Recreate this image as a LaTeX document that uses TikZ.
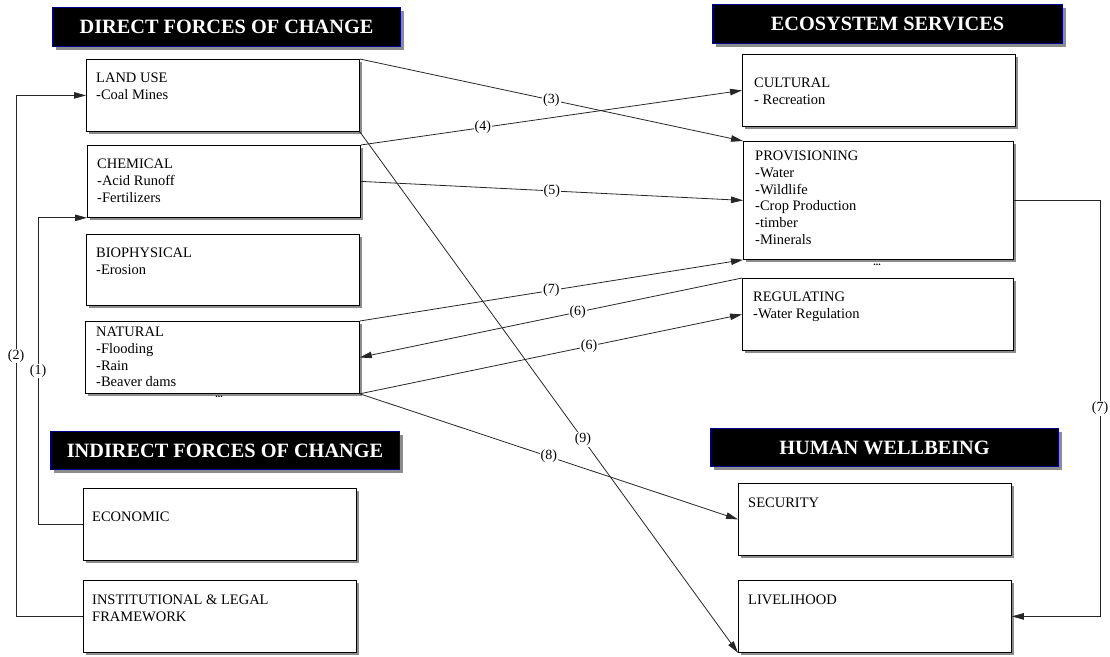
\documentclass[tikz,border=0pt]{standalone}
\usepackage{fontspec}
\setmainfont{Liberation Serif}
\usetikzlibrary{shadows,arrows.meta}
\begin{document}
\begin{tikzpicture}[x=1pt,y=-1pt,
  box/.style={draw=black, line width=0.8pt, fill=white, anchor=north west, inner sep=0pt,
    drop shadow={shadow xshift=3pt, shadow yshift=-3pt, fill=black!45, opacity=1}},
  hdr/.style={draw=blue!55!black, line width=1pt, fill=black, text=white, inner sep=0pt,
    anchor=north west, font=\fontsize{20.3}{22}\selectfont\bfseries,
    drop shadow={shadow xshift=3pt, shadow yshift=-3pt, fill=black!45, opacity=1}},
  txt/.style={anchor=north west, inner sep=0pt, align=left, font=\fontsize{14.5}{16.7}\selectfont},
  dots/.style={inner sep=0pt, anchor=base, font=\fontsize{10}{12}\selectfont\bfseries},
  conn/.style={draw=black!85, line width=0.8pt},
  arr/.style={conn, -{Triangle[length=12pt,width=6.5pt]}},
  lbl/.style={fill=white, inner sep=1pt, font=\fontsize{14}{16}\selectfont}]
\useasboundingbox (0,0) rectangle (1110,656);

% headers
\node[hdr, minimum width=348pt, minimum height=39pt] (hdirect) at (52,7) {DIRECT FORCES OF CHANGE};
\node[hdr, minimum width=350pt, minimum height=39pt] (heco) at (712,4) {ECOSYSTEM SERVICES};
\node[hdr, minimum width=349pt, minimum height=38pt] (hindirect) at (50,431) {INDIRECT FORCES OF CHANGE};
\node[hdr, minimum width=348pt, minimum height=38pt] (hhuman) at (710,428) {HUMAN WELLBEING};

% left boxes
\node[box, minimum width=273pt, minimum height=72pt] (land) at (86,59) {};
\node[box, minimum width=273pt, minimum height=72pt] (chem) at (87,145) {};
\node[box, minimum width=273pt, minimum height=71pt] (bio) at (86,234) {};
\node[box, minimum width=274pt, minimum height=72pt] (nat) at (85,321) {};
\node[box, minimum width=273pt, minimum height=72pt] (econ) at (83,488) {};
\node[box, minimum width=273pt, minimum height=72pt] (inst) at (83,580) {};

% right boxes
\node[box, minimum width=273pt, minimum height=72pt] (cult) at (742,54) {};
\node[box, minimum width=270pt, minimum height=118pt] (prov) at (743,141) {};
\node[box, minimum width=271pt, minimum height=72pt] (reg) at (742,278) {};
\node[box, minimum width=273pt, minimum height=72pt] (sec) at (738,483) {};
\node[box, minimum width=273pt, minimum height=72pt] (live) at (738,580) {};

% texts
\node[txt] (landT) at (96,73) {LAND USE\\-Coal Mines};
\node[txt] (chemT) at (97,159) {CHEMICAL\\-Acid Runoff\\-Fertilizers};
\node[txt] (bioT) at (96,248) {BIOPHYSICAL\\-Erosion};
\node[txt] (natT) at (96,327) {NATURAL\\-Flooding\\-Rain\\-Beaver dams};
\node[txt] (econT) at (92,512) {ECONOMIC};
\node[txt] (instT) at (92,595) {INSTITUTIONAL \& LEGAL\\FRAMEWORK};
\node[txt] (cultT) at (754,78) {CULTURAL\\- Recreation};
\node[txt] (provT) at (755,151) {PROVISIONING\\-Water\\-Wildlife\\-Crop Production\\-timber\\-Minerals};
\node[txt] (regT) at (753,292) {REGULATING\\-Water Regulation};
\node[txt] (secT) at (748,498) {SECURITY};
\node[txt] (liveT) at (748,595) {LIVELIHOOD};

\node[dots] (natdots) at (219,397.5) {...};
\node[dots] (provdots) at (877,265.5) {...};

% side rails
\coordinate (r1) at (38,0);
\coordinate (r2) at (16,0);
\coordinate (r7) at (1100,0);

% connectors
\draw[arr] (econ.west) -- (econ.west -| r1) -- node[lbl, midway] {(1)} (chem.south west -| r1) -- (chem.south west);
\draw[arr] (inst.west) -- (inst.west -| r2) -- node[lbl, midway] {(2)} (land.west -| r2) -- (land.west);
\draw[arr] (land.north east) -- node[lbl, pos=0.5] {(3)} (prov.north west);
\draw[arr] (chem.north east) -- node[lbl, pos=0.32] {(4)} (cult.west);
\draw[arr] (chem.east) -- node[lbl, pos=0.5] {(5)} (prov.west);
\draw[arr] (nat.north east) -- node[lbl, pos=0.5] {(7)} (prov.south west);
\draw[arr] (reg.north west) -- node[lbl, pos=0.43] {(6)} (nat.east);
\draw[arr] (nat.south east) -- node[lbl, pos=0.6] {(6)} (reg.west);
\draw[arr] (nat.south east) -- node[lbl, pos=0.5] {(8)} (sec.west);
\draw[arr] (land.south east) -- node[lbl, pos=0.59] {(9)} (live.south west);
\draw[arr] (prov.east) -- (prov.east -| r7) -- node[lbl, midway] {(7)} (live.east -| r7) -- (live.east);
\end{tikzpicture}
\end{document}
